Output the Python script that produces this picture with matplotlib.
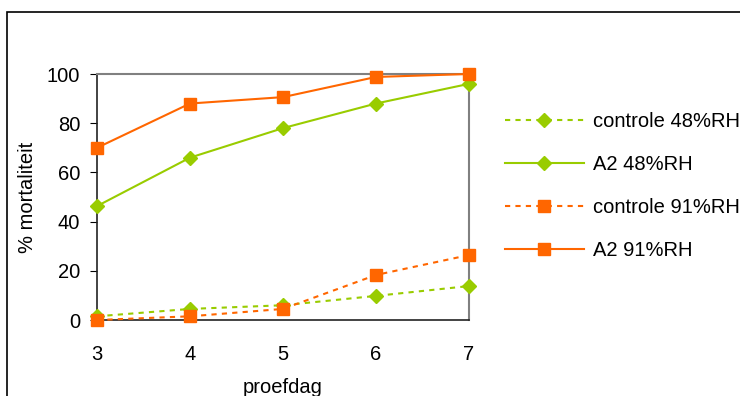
import matplotlib
matplotlib.use('Agg')
import matplotlib.pyplot as plt
from matplotlib.patches import Rectangle

plt.rcParams['font.family'] = ['Liberation Sans', 'DejaVu Sans']

# ─── Data ───
days = [3, 4, 5, 6, 7]
controle_48 = [1.5, 4.5, 6, 9.8, 13.8]
a2_48 = [46.3, 66, 78, 88, 96]
controle_91 = [0, 1.5, 4.5, 18.3, 26.4]
a2_91 = [70, 88, 90.6, 98.8, 100]

GREEN = '#99CC00'
ORANGE = '#FF6600'
FS = 14.5

fig = plt.figure(figsize=(7.4, 3.96), dpi=100)
ax = fig.add_axes([97 / 740, 1 - 320 / 396, (469 - 97) / 740, (320 - 74) / 396])

dash = (0, (2.5, 2.5))
ax.plot(days, controle_48, color=GREEN, lw=1.5, ls=dash, marker='D', ms=7,
        clip_on=False, zorder=3, label='controle 48%RH')
ax.plot(days, a2_48, color=GREEN, lw=1.5, marker='D', ms=7,
        clip_on=False, zorder=3, label='A2 48%RH')
ax.plot(days, controle_91, color=ORANGE, lw=1.5, ls=dash, marker='s', ms=8,
        clip_on=False, zorder=3, label='controle 91%RH')
ax.plot(days, a2_91, color=ORANGE, lw=1.5, marker='s', ms=8,
        clip_on=False, zorder=3, label='A2 91%RH')

ax.set_xlim(3, 7)
ax.set_ylim(0, 100)
ax.set_xticks(days)
ax.set_yticks(range(0, 101, 20))
ax.tick_params(axis='x', length=0, pad=18, labelsize=FS)
ax.tick_params(axis='y', length=5, direction='out', labelsize=FS, pad=7)

for side in ['top', 'right']:
    ax.spines[side].set_color('#808080')
    ax.spines[side].set_linewidth(1.5)
for side in ['left', 'bottom']:
    ax.spines[side].set_color('#222222')
    ax.spines[side].set_linewidth(1.2)

ax.set_xlabel('proefdag', fontsize=FS, labelpad=10)
ax.set_ylabel('% mortaliteit', fontsize=FS, labelpad=7)

fig.legend(loc='upper left', bbox_to_anchor=(505 / 740, 1 - 112 / 396),
           frameon=False, fontsize=FS, labelspacing=1.2, handlelength=3.9,
           handletextpad=0.45, borderaxespad=0, borderpad=0)

# outer chart frame (cropped at right and bottom)
fig.patches.append(Rectangle((7 / 740, -0.1), 1.1, 1 - 12 / 396 + 0.1,
                             transform=fig.transFigure, fill=False,
                             edgecolor='black', linewidth=1.2, zorder=0))

fig.savefig('out.png', dpi=100)
